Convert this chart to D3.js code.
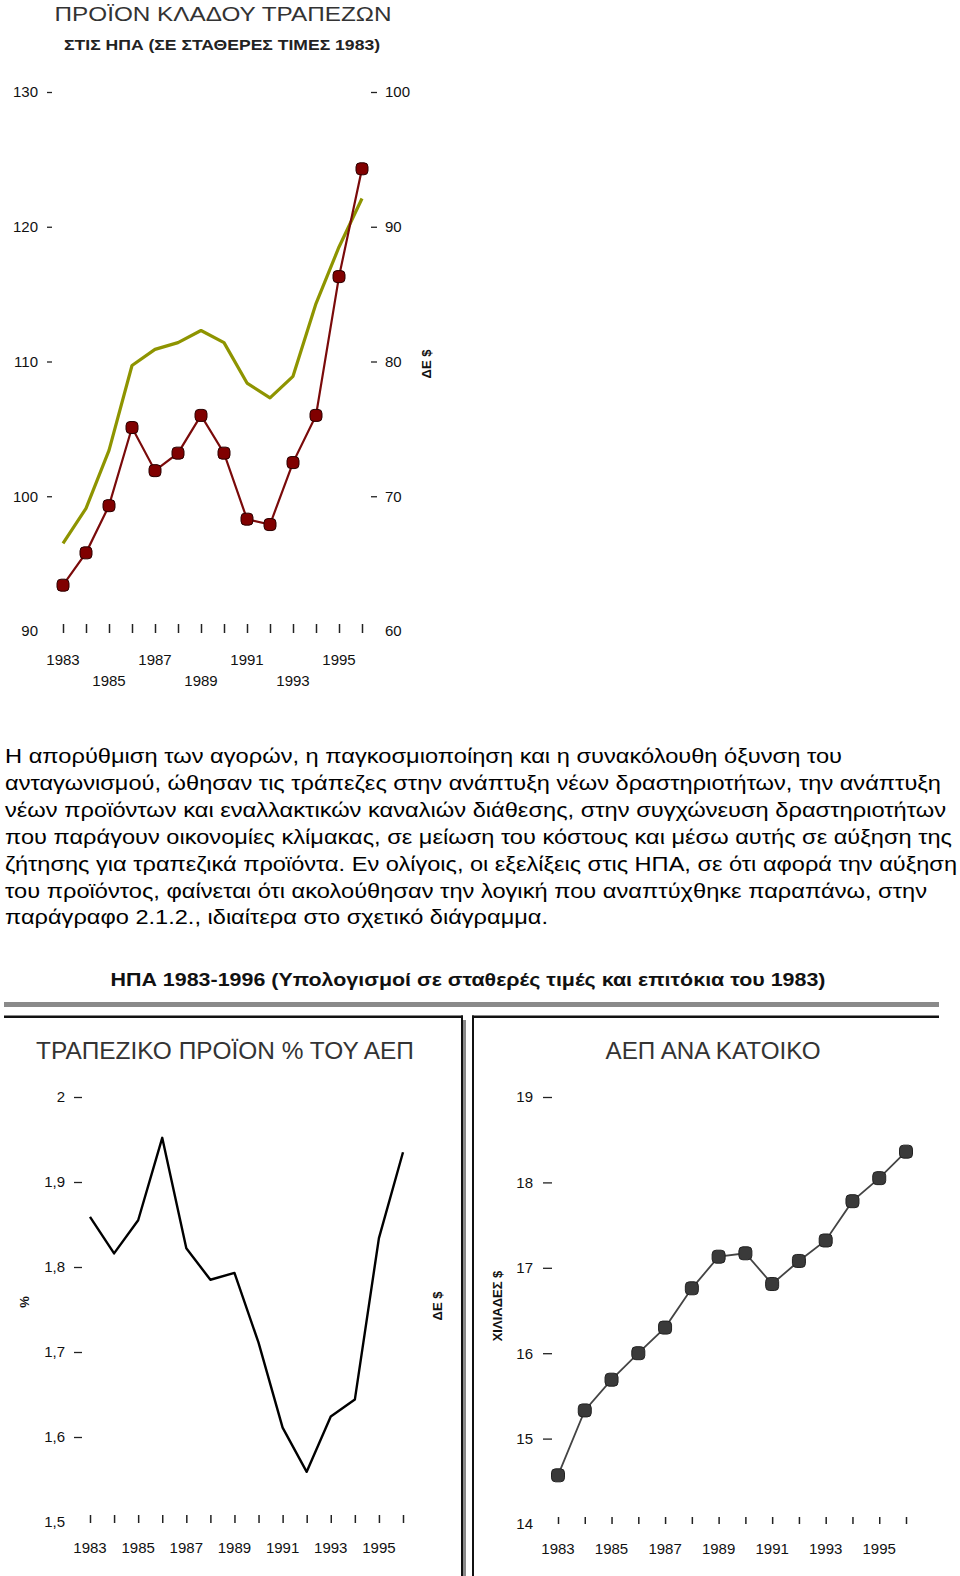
<!DOCTYPE html>
<html><head><meta charset="utf-8">
<script src="https://cdn.jsdelivr.net/npm/d3@7"></script>
<style>
html,body{margin:0;padding:0;background:#fff;}
svg{display:block;}
text{font-family:"Liberation Sans",Arial,sans-serif;}
</style></head>
<body>
<svg id="c" width="960" height="1576"></svg>
<script>
// ---------- DATA ----------
const years = [1983,1984,1985,1986,1987,1988,1989,1990,1991,1992,1993,1994,1995,1996];
// Top chart: bank sector product (right axis, red, ΔΕ $)
const bankProduct = [63.4,65.8,69.3,75.1,71.9,73.2,76.0,73.2,68.3,67.9,72.5,76.0,86.3,94.3];
// Top chart: index (left axis, olive)
const bankIndex = [96.5,99.1,103.4,109.7,110.9,111.4,112.3,111.4,108.4,107.3,108.9,114.3,118.5,122.1];
const topLeftTicks = [90,100,110,120,130];
const topRightTicks = [60,70,80,90,100];
const topUpperYears = [1983,1987,1991,1995];
const topLowerYears = [1985,1989,1993];
// Bottom left: bank product % of GDP
const bankShareGDP = [1.859,1.816,1.855,1.952,1.822,1.785,1.793,1.711,1.611,1.559,1.624,1.644,1.834,1.935];
const shareTicks = [1.5,1.6,1.7,1.8,1.9,2.0];
// Bottom right: GDP per capita (thousand $)
const gdpPerCapita = [14.57,15.33,15.69,16.0,16.3,16.76,17.13,17.17,16.81,17.08,17.32,17.78,18.05,18.36];
const gdpTicks = [14,15,16,17,18,19];
const bottomYearLabels = [1983,1985,1987,1989,1991,1993,1995];

const paragraph = [
 "Η απορύθμιση των αγορών, η παγκοσμιοποίηση και η συνακόλουθη όξυνση του",
 "ανταγωνισμού, ώθησαν τις τράπεζες στην ανάπτυξη νέων δραστηριοτήτων, την ανάπτυξη",
 "νέων προϊόντων και εναλλακτικών καναλιών διάθεσης, στην συγχώνευση δραστηριοτήτων",
 "που παράγουν οικονομίες κλίμακας, σε μείωση του κόστους και μέσω αυτής σε αύξηση της",
 "ζήτησης για τραπεζικά προϊόντα. Εν ολίγοις, οι εξελίξεις στις ΗΠΑ, σε ότι αφορά την αύξηση",
 "του προϊόντος, φαίνεται ότι ακολούθησαν την λογική που αναπτύχθηκε παραπάνω, στην",
 "παράγραφο 2.1.2., ιδιαίτερα στο σχετικό διάγραμμα."
];
const paragraphWidths = [837,936,941,947,952,922,543];

// ---------- DRAW ----------
const svg = d3.select("#c");
const TICKFONT = "15px";

// ===== TOP CHART =====
svg.append("text").attr("x",223).attr("y",21).attr("text-anchor","middle")
  .attr("font-size","20px").attr("fill","#333").attr("textLength",337).attr("lengthAdjust","spacingAndGlyphs")
  .text("ΠΡΟΪΟΝ ΚΛΑΔΟΥ ΤΡΑΠΕΖΩΝ");
svg.append("text").attr("x",222).attr("y",50).attr("text-anchor","middle")
  .attr("font-size","14px").attr("font-weight","bold").attr("fill","#222").attr("textLength",316).attr("lengthAdjust","spacingAndGlyphs")
  .text("ΣΤΙΣ ΗΠΑ (ΣΕ ΣΤΑΘΕΡΕΣ ΤΙΜΕΣ 1983)");

const xTop = d3.scaleLinear().domain([1983,1996]).range([63,362]);
const yTopL = d3.scaleLinear().domain([90,130]).range([631,92]);
const yTopR = d3.scaleLinear().domain([60,100]).range([631,92]);

function styleAxis(g){
  g.select(".domain").remove();
  g.selectAll("text").attr("font-size",TICKFONT).attr("fill","#111").attr("font-family","Liberation Sans, Arial, sans-serif");
  g.selectAll("line").attr("stroke","#222").attr("stroke-width",1.3);
}

const gTL = svg.append("g").attr("transform","translate(52,0)")
  .call(d3.axisLeft(yTopL).tickValues(topLeftTicks).tickSize(5).tickPadding(9).tickFormat(d3.format("d")));
styleAxis(gTL);
gTL.selectAll(".tick").filter(d=>d===90).select("line").remove();

const gTR = svg.append("g").attr("transform","translate(371,0)")
  .call(d3.axisRight(yTopR).tickValues(topRightTicks).tickSize(6).tickPadding(8).tickFormat(d3.format("d")));
styleAxis(gTR);
gTR.selectAll(".tick").filter(d=>d===60).select("line").remove();

const gTX = svg.append("g").attr("transform","translate(0,624)")
  .call(d3.axisBottom(xTop).tickValues(years).tickSize(9).tickFormat(""));
styleAxis(gTX);
gTX.selectAll("line").attr("stroke-width",1.5);

svg.append("g").selectAll("text").data(topUpperYears).join("text")
  .attr("x",d=>xTop(d)).attr("y",665).attr("text-anchor","middle").attr("font-size",TICKFONT).attr("fill","#111").text(d=>d);
svg.append("g").selectAll("text").data(topLowerYears).join("text")
  .attr("x",d=>xTop(d)).attr("y",686).attr("text-anchor","middle").attr("font-size",TICKFONT).attr("fill","#111").text(d=>d);

svg.append("text").attr("transform","translate(431,364) rotate(-90)").attr("text-anchor","middle")
  .attr("font-size","13px").attr("font-weight","bold").attr("fill","#111").text("ΔΕ $");

const oliveLine = d3.line().x((d,i)=>xTop(years[i])).y(d=>yTopL(d));
svg.append("path").datum(bankIndex).attr("d",oliveLine).attr("fill","none")
  .attr("stroke","#8e9400").attr("stroke-width",3.2).attr("stroke-linejoin","round");

const redLine = d3.line().x((d,i)=>xTop(years[i])).y(d=>yTopR(d));
svg.append("path").datum(bankProduct).attr("d",redLine).attr("fill","none")
  .attr("stroke","#7a0a0a").attr("stroke-width",2.2);
svg.append("g").selectAll("rect").data(bankProduct).join("rect")
  .attr("x",(d,i)=>xTop(years[i])-6).attr("y",d=>yTopR(d)-6).attr("width",12).attr("height",12)
  .attr("rx",4).attr("fill","#800000").attr("stroke","#2a0000").attr("stroke-width",1);

// ===== PARAGRAPH =====
svg.append("g").selectAll("text").data(paragraph).join("text")
  .attr("x",5).attr("y",(d,i)=>763+i*26.9)
  .attr("font-size","21px").attr("fill","#000")
  .attr("textLength",(d,i)=>paragraphWidths[i]).attr("lengthAdjust","spacingAndGlyphs")
  .text(d=>d);

// ===== BOTTOM TITLE & FRAMES =====
svg.append("text").attr("x",468).attr("y",986).attr("text-anchor","middle")
  .attr("font-size","19px").attr("font-weight","bold").attr("fill","#111")
  .attr("textLength",715).attr("lengthAdjust","spacingAndGlyphs")
  .text("ΗΠΑ 1983-1996 (Υπολογισμοί σε σταθερές τιμές και επιτόκια του 1983)");

svg.append("rect").attr("x",4).attr("y",1002).attr("width",935).attr("height",5).attr("fill","#8a8a8a");
svg.append("rect").attr("x",4).attr("y",1015.5).attr("width",459).attr("height",2.5).attr("fill","#111");
svg.append("rect").attr("x",472).attr("y",1015.5).attr("width",467).attr("height",2.5).attr("fill","#111");
svg.append("rect").attr("x",461).attr("y",1015.5).attr("width",2).attr("height",1558).attr("fill","#111");
svg.append("rect").attr("x",463).attr("y",1020).attr("width",3).attr("height",1553).attr("fill","#8a8a8a");
svg.append("rect").attr("x",472).attr("y",1015.5).attr("width",2).attr("height",1558).attr("fill","#111");

svg.append("text").attr("x",225).attr("y",1059).attr("text-anchor","middle")
  .attr("font-size","23px").attr("fill","#333").attr("textLength",378).attr("lengthAdjust","spacingAndGlyphs")
  .text("ΤΡΑΠΕΖΙΚΟ ΠΡΟΪΟΝ % ΤΟΥ ΑΕΠ");
svg.append("text").attr("x",713).attr("y",1059).attr("text-anchor","middle")
  .attr("font-size","23px").attr("fill","#333").attr("textLength",215).attr("lengthAdjust","spacingAndGlyphs")
  .text("ΑΕΠ ΑΝΑ ΚΑΤΟΙΚΟ");

// ===== BOTTOM LEFT =====
const xBL = d3.scaleLinear().domain([1983,1996]).range([90,403]);
const yBL = d3.scaleLinear().domain([1.5,2.0]).range([1522,1097]);
const commaFmt = d=> d===2 ? "2" : d3.format(".1f")(d).replace(".",",");
const gBLy = svg.append("g").attr("transform","translate(82,0)")
  .call(d3.axisLeft(yBL).tickValues(shareTicks).tickSize(8).tickPadding(9).tickFormat(commaFmt));
styleAxis(gBLy);
gBLy.selectAll(".tick").filter(d=>d===1.5).select("line").remove();
const gBLx = svg.append("g").attr("transform","translate(0,1515)")
  .call(d3.axisBottom(xBL).tickValues(years).tickSize(8).tickFormat(""));
styleAxis(gBLx);
gBLx.selectAll("line").attr("stroke-width",1.5);
svg.append("g").selectAll("text").data(bottomYearLabels).join("text")
  .attr("x",d=>xBL(d)).attr("y",1553).attr("text-anchor","middle").attr("font-size",TICKFONT).attr("fill","#111").text(d=>d);
svg.append("text").attr("transform","translate(29,1302) rotate(-90)").attr("text-anchor","middle")
  .attr("font-size","13px").attr("font-weight","bold").attr("fill","#111").text("%");
svg.append("text").attr("transform","translate(442,1306) rotate(-90)").attr("text-anchor","middle")
  .attr("font-size","13px").attr("font-weight","bold").attr("fill","#111").text("ΔΕ $");

const shareLine = d3.line().x((d,i)=>xBL(years[i])).y(d=>yBL(d));
svg.append("path").datum(bankShareGDP).attr("d",shareLine).attr("fill","none")
  .attr("stroke","#000").attr("stroke-width",2.4).attr("stroke-linejoin","round");

// ===== BOTTOM RIGHT =====
const xBR = d3.scaleLinear().domain([1983,1996]).range([558,906]);
const yBR = d3.scaleLinear().domain([14,19]).range([1524,1097]);
const gBRy = svg.append("g").attr("transform","translate(552,0)")
  .call(d3.axisLeft(yBR).tickValues(gdpTicks).tickSize(9).tickPadding(10).tickFormat(d3.format("d")));
styleAxis(gBRy);
gBRy.selectAll(".tick").filter(d=>d===14).select("line").remove();
const gBRx = svg.append("g").attr("transform","translate(0,1517)")
  .call(d3.axisBottom(xBR).tickValues(years).tickSize(7).tickFormat(""));
styleAxis(gBRx);
gBRx.selectAll("line").attr("stroke-width",1.5);
svg.append("g").selectAll("text").data(bottomYearLabels).join("text")
  .attr("x",d=>xBR(d)).attr("y",1554).attr("text-anchor","middle").attr("font-size",TICKFONT).attr("fill","#111").text(d=>d);
svg.append("text").attr("transform","translate(502,1306) rotate(-90)").attr("text-anchor","middle")
  .attr("font-size","13px").attr("font-weight","bold").attr("fill","#111").text("ΧΙΛΙΑΔΕΣ $");

const gdpLine = d3.line().x((d,i)=>xBR(years[i])).y(d=>yBR(d));
svg.append("path").datum(gdpPerCapita).attr("d",gdpLine).attr("fill","none")
  .attr("stroke","#444").attr("stroke-width",1.8);
svg.append("g").selectAll("rect").data(gdpPerCapita).join("rect")
  .attr("x",(d,i)=>xBR(years[i])-6.5).attr("y",d=>yBR(d)-6.5).attr("width",13).attr("height",13)
  .attr("rx",4).attr("fill","#3a3a3a").attr("stroke","#222").attr("stroke-width",1);
</script>
</body></html>
